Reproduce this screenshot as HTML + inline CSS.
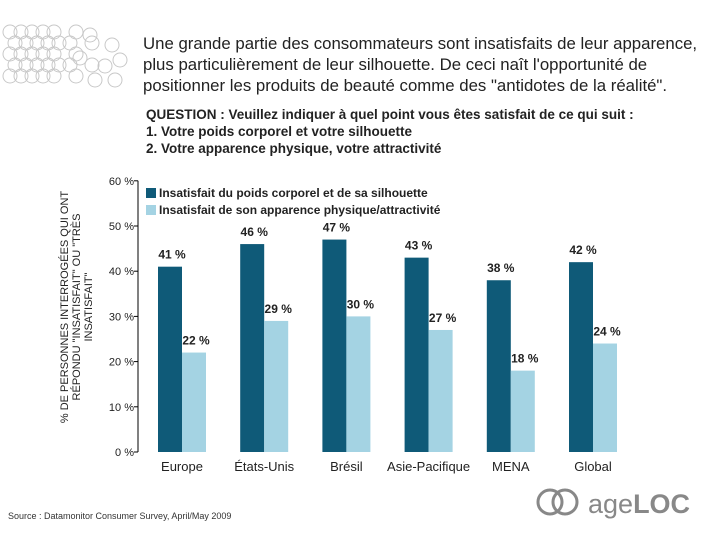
<!DOCTYPE html>
<html><head><meta charset="utf-8"><style>
body{margin:0;width:720px;height:540px;background:#fff;overflow:hidden;font-family:"Liberation Sans",sans-serif}
</style></head><body>
<svg width="720" height="540" xmlns="http://www.w3.org/2000/svg">
<g id="deco" fill="none" stroke="#c8c8c8" stroke-width="1"></g>
<text x="143" y="49" font-size="16.8" fill="#222">Une grande partie des consommateurs sont insatisfaits de leur apparence,</text>
<text x="143" y="70" font-size="16.8" fill="#222">plus particulièrement de leur silhouette. De ceci naît l'opportunité de</text>
<text x="143" y="91" font-size="16.8" fill="#222">positionner les produits de beauté comme des "antidotes de la réalité".</text>
<g font-size="13.5" font-weight="bold" fill="#222">
<text x="146" y="119">QUESTION : Veuillez indiquer à quel point vous êtes satisfait de ce qui suit :</text>
<text x="146" y="136">1. Votre poids corporel et votre silhouette</text>
<text x="146" y="153">2. Votre apparence physique, votre attractivité</text>
</g>
<g font-size="11" fill="#222" text-anchor="middle">
<text transform="translate(68,307) rotate(-90)">% DE PERSONNES INTERROGÉES QUI ONT</text>
<text transform="translate(80,307) rotate(-90)">RÉPONDU "INSATISFAIT" OU "TRÈS</text>
<text transform="translate(92,307) rotate(-90)">INSATISFAIT"</text>
</g>
<g id="axis"></g>
<g id="bars"></g>
<g font-size="12" font-weight="bold" fill="#222">
<rect x="146" y="188" width="10" height="10" fill="#0f5a78"/>
<text x="159" y="197">Insatisfait du poids corporel et de sa silhouette</text>
<rect x="146" y="205" width="10" height="10" fill="#a4d3e3"/>
<text x="159" y="214">Insatisfait de son apparence physique/attractivité</text>
</g>
<text x="8" y="519" font-size="9" fill="#333">Source : Datamonitor Consumer Survey, April/May 2009</text>
<g>
<circle cx="550" cy="502" r="12" fill="none" stroke="#888" stroke-width="3"/>
<circle cx="565" cy="502" r="12" fill="none" stroke="#888" stroke-width="3"/>
<text x="588" y="513" font-size="27" fill="#888">age<tspan font-weight="bold">LOC</tspan></text>
</g>
</svg>
<script>
const categories=["Europe","États-Unis","Brésil","Asie-Pacifique","MENA","Global"];
const bodyValues=[41,46,47,43,38,42];
const appearanceValues=[22,29,30,27,18,24];
const ticks=[0,10,20,30,40,50,60];
const NS="http://www.w3.org/2000/svg";
const y0=452,pxPer=4.52,ax=138;
function yScale(v){return y0-v*pxPer;}
function xScale(i){return 158+i*82.2;}
function mk(t,a,p){const e=document.createElementNS(NS,t);for(const k in a)e.setAttribute(k,a[k]);p.appendChild(e);return e;}
const axis=document.getElementById('axis');
mk('line',{x1:ax,y1:yScale(60),x2:ax,y2:y0,stroke:'#000'},axis);
ticks.forEach(t=>{
 mk('line',{x1:ax-4,y1:yScale(t),x2:ax,y2:yScale(t),stroke:'#000'},axis);
 const tx=mk('text',{x:ax-4,y:yScale(t)+4,'font-size':11,'text-anchor':'end',fill:'#222'},axis);
 tx.textContent=t+' %';
 
 
});
const bars=document.getElementById('bars');
categories.forEach((c,i)=>{
 const x=xScale(i);
 const b=mk('rect',{x:x,y:yScale(bodyValues[i]),width:24,height:bodyValues[i]*pxPer,fill:'#0f5a78'},bars);
 
 
 const a=mk('rect',{x:x+24,y:yScale(appearanceValues[i]),width:24,height:appearanceValues[i]*pxPer,fill:'#a4d3e3'},bars);
 
 
 const l1=mk('text',{x:x+14,y:yScale(bodyValues[i])-8,'font-size':12,'font-weight':'bold','text-anchor':'middle',fill:'#222'},bars);
 l1.textContent=bodyValues[i]+' %';
 
 
 const l2=mk('text',{x:x+38,y:yScale(appearanceValues[i])-8,'font-size':12,'font-weight':'bold','text-anchor':'middle',fill:'#222'},bars);
 l2.textContent=appearanceValues[i]+' %';
 
 
 const cl=mk('text',{x:x+24,y:471,'font-size':13,'text-anchor':'middle',fill:'#222'},bars);
 cl.textContent=c;
 
 
});
const deco=document.getElementById('deco');
for(let r=0;r<5;r++)for(let c=0;c<8;c++){
 if(c>4+ (r%2) && (r+c)%2)continue;
 mk('circle',{cx:10+c*11+(r%2)*5,cy:32+r*11,r:7},deco);
}
[[90,35],[112,45],[80,58],[105,66],[120,60],[95,80],[115,80]].forEach(p=>mk('circle',{cx:p[0],cy:p[1],r:7},deco));
</script>
</body></html>
